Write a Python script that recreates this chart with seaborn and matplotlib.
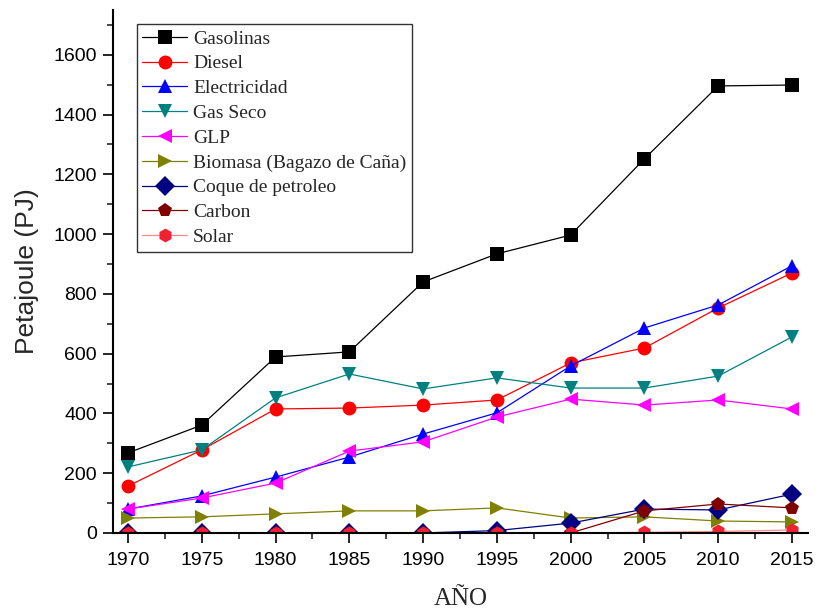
import numpy as np
import pandas as pd
import matplotlib
matplotlib.use("Agg")
import matplotlib.pyplot as plt
import seaborn as sns
from matplotlib.ticker import MultipleLocator

years = [1970, 1975, 1980, 1985, 1990, 1995, 2000, 2005, 2010, 2015]
gasolinas = [268, 361, 589, 606, 840, 934, 997, 1252, 1496, 1499]
diesel = [157, 278, 415, 418, 428, 445, 569, 619, 753, 870]
electricidad = [80, 124, 187, 254, 331, 402, 559, 686, 763, 894]
gas_seco = [221, 278, 452, 532, 482, 519, 485, 485, 525, 656]
glp = [80, 117, 167, 274, 305, 388, 448, 428, 445, 415]
biomasa = [50, 54, 64, 74, 74, 84, 50, 54, 40, 37]
coque = [0, 0, 0, 0, 0, 8, 33, 80, 77, 130]
carbon = [0, 0, 0, 0, 0, 0, 0, 74, 97, 84]
solar = [0, 0, 0, 0, 0, 0, 0, 2, 5, 10]

names = ["Gasolinas", "Diesel", "Electricidad", "Gas Seco", "GLP",
         "Biomasa (Bagazo de Caña)", "Coque de petroleo", "Carbon", "Solar"]
series = [gasolinas, diesel, electricidad, gas_seco, glp, biomasa, coque, carbon, solar]
colors = ["#000000", "#FF0000", "#0000FF", "#008080", "#FF00FF",
          "#808000", "#000080", "#800000", "#EE2233"]
marks = ["s", "o", "^", "v", "<", ">", "D", "p", "h"]

df = pd.concat([pd.DataFrame({"AÑO": years, "Valor": s, "Serie": n})
                for n, s in zip(names, series)], ignore_index=True)

sns.set_style("ticks")
fig = plt.figure(figsize=(8.21, 6.11), dpi=100)
ax = fig.add_axes([0.1376, 0.1277, 0.8464, 0.8559])

sns.lineplot(data=df, x="AÑO", y="Valor", hue="Serie", style="Serie",
             hue_order=names, style_order=names,
             palette=dict(zip(names, colors)),
             markers=dict(zip(names, marks)), dashes=False,
             markersize=10, markeredgewidth=0, linewidth=0.9, ax=ax)

ax.set_xlim(1968.98, 2016.08)
ax.set_ylim(0, 1750)
ax.xaxis.set_major_locator(MultipleLocator(5))
ax.xaxis.set_minor_locator(MultipleLocator(2.5))
ax.yaxis.set_major_locator(MultipleLocator(200))
ax.yaxis.set_minor_locator(MultipleLocator(100))
for side in ["top", "right"]:
    ax.spines[side].set_visible(False)
for side in ["left", "bottom"]:
    ax.spines[side].set_linewidth(1.5)
    ax.spines[side].set_color("black")
ax.tick_params(axis="both", which="major", direction="out", length=7.5, width=1.2,
               labelsize=14, colors="black")
ax.tick_params(axis="x", which="major", pad=6)
ax.tick_params(axis="y", which="major", pad=4)
ax.tick_params(axis="both", which="minor", direction="out", length=4, width=1.2)
for lab in ax.get_xticklabels() + ax.get_yticklabels():
    lab.set_fontfamily("Liberation Sans")

ax.set_xlabel("AÑO", fontsize=18, fontfamily="Liberation Serif", labelpad=14)
ax.set_ylabel("Petajoule (PJ)", fontsize=19, fontfamily="Liberation Sans", labelpad=10)

leg = ax.legend(loc="upper left", bbox_to_anchor=(0.034, 0.973), frameon=True,
                fancybox=False, edgecolor="#333333", framealpha=1,
                prop={"family": "Liberation Serif", "size": 14},
                handlelength=2.3, borderpad=0.3, labelspacing=0.37,
                handletextpad=0.3, borderaxespad=0)
leg.get_frame().set_linewidth(1.0)

# Solar: lighter line, crimson markers (as in the reference)
for ln in list(ax.lines) + list(leg.get_lines()):
    if ln.get_marker() == "h":
        ln.set_color("#FF8A8A")
        ln.set_markerfacecolor("#EE2233")
        ln.set_markeredgecolor("#EE2233")

fig.savefig("out.png", dpi=100)
